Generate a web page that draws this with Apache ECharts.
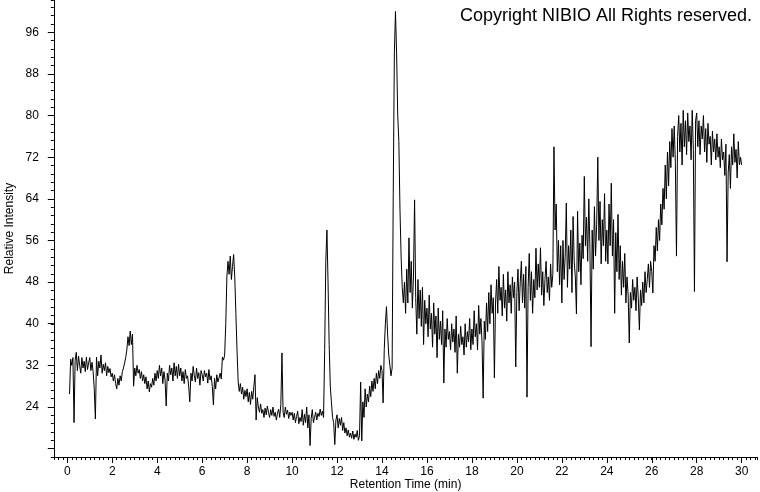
<!DOCTYPE html>
<html>
<head>
<meta charset="utf-8">
<script src="https://cdn.jsdelivr.net/npm/echarts@6/dist/echarts.min.js"></script>
<style>
  html, body { margin: 0; padding: 0; background: #fff; }
  #chart { width: 760px; height: 492px; }
</style>
</head>
<body>
<div id="chart"></div>
<script>
// retention time grid: first point and step (min)
const startTime = 0.1
const timeStep = 0.05

// relative intensity, 20 points per minute
const seg0to5 = [
  26.5, 33.2, 32.0, 33.5, 21.0, 33.0, 34.5, 31.0, 33.8, 32.0, 30.5, 33.5, 31.5, 32.8, 30.8, 33.6, 31.2, 32.5,
  33.5, 31.0, 32.6, 30.8, 27.5, 21.7, 33.6, 30.0, 32.8, 31.5, 34.0, 30.5, 32.2, 31.0, 32.5, 30.0, 31.8, 30.6, 31.4, 29.8,
  30.5, 29.0, 30.2, 28.5, 27.5, 29.5, 28.2, 30.0, 29.0, 30.8, 31.5, 32.5, 33.5, 35.0, 37.5, 35.8, 38.6, 36.0, 38.0, 28.0,
  31.5, 30.0, 32.0, 30.5, 31.2, 29.5, 30.8, 29.0, 30.2, 28.5, 29.8, 27.5, 29.0, 26.9, 28.5, 27.8, 29.5, 28.2, 30.5, 29.0,
  31.0, 29.5, 32.0, 30.0, 31.5, 28.5, 30.8, 29.2, 24.2, 30.5, 29.0, 32.0, 30.2, 31.5, 29.0, 32.5, 30.0, 31.8, 29.5, 32.2
]
const seg5to10 = [
  30.0, 31.5, 29.0, 30.8, 28.5, 31.2, 29.5, 30.0, 28.0, 25.0, 30.5, 29.0, 31.8, 30.0, 28.8, 31.5, 29.5, 30.6, 28.2, 31.0,
  30.2, 29.0, 31.0, 29.8, 30.5, 28.6, 31.2, 29.2, 30.0, 28.0, 24.4, 29.5, 27.5, 30.2, 28.8, 29.6, 30.5, 29.4, 33.6, 33.0,
  34.0, 40.0, 49.0, 52.0, 49.5, 53.0, 48.5, 51.0, 53.3, 49.0, 42.0, 35.0, 29.0, 27.0, 28.5, 26.5, 27.8, 25.5, 27.2, 26.0,
  27.5, 25.0, 26.8, 24.5, 27.0, 25.5, 28.0, 30.2, 21.5, 25.8, 24.0, 23.0, 24.6, 22.8, 23.5, 22.0, 23.8, 22.5, 24.2, 23.0,
  22.0, 23.5, 22.4, 24.0, 22.2, 23.0, 21.5, 22.8, 23.6, 22.0, 24.5, 34.4, 23.0, 22.0, 24.0, 22.6, 23.4, 21.8, 23.0, 22.4
]
const seg10to15 = [
  23.0, 21.5, 22.8, 21.0, 22.2, 23.2, 20.8, 22.0, 21.2, 23.5, 20.5, 22.6, 21.0, 24.0, 20.0, 22.5, 16.6, 21.8, 23.5, 21.0,
  22.0, 23.0, 21.5, 22.8, 22.2, 23.6, 22.4, 23.2, 22.0, 35.0, 52.0, 58.0, 48.0, 36.0, 28.0, 25.0, 22.0, 21.0, 16.8, 21.5,
  22.5, 20.0, 21.8, 20.5, 22.0, 19.5, 21.0, 19.0, 20.0, 18.5, 19.6, 18.2, 19.0, 18.0, 19.4, 17.8, 18.8, 18.2, 19.5, 17.6,
  18.5, 28.8, 17.5, 25.0, 22.0, 27.5, 24.0, 26.5, 25.0, 28.0, 26.0, 29.0, 27.0, 29.5, 27.5, 30.5, 28.5, 31.0, 29.5, 32.0,
  31.0, 24.8, 35.0, 40.0, 43.3, 38.0, 34.0, 32.0, 30.0, 31.5, 65.0, 92.0, 100.0, 92.0, 80.0, 75.0, 62.0, 53.0, 47.0, 44.0
]
const seg15to20 = [
  48.0, 42.0, 50.5, 44.0, 56.5, 46.0, 52.0, 43.0, 49.0, 63.8, 45.0, 38.0, 48.5, 41.0, 46.5, 39.5, 47.0, 36.0, 44.5, 40.0,
  43.0, 37.5, 45.5, 39.0, 42.0, 35.5, 44.0, 38.0, 41.5, 33.5, 43.0, 37.0, 40.5, 36.0, 42.5, 28.6, 39.0, 35.5, 41.0, 37.0,
  38.5, 35.0, 40.0, 36.5, 39.0, 34.5, 41.5, 30.5, 38.0, 35.5, 39.5, 36.0, 37.5, 34.0, 40.0, 35.5, 38.5, 36.5, 41.0, 35.0,
  39.0, 36.0, 42.5, 37.5, 40.0, 35.0, 43.5, 38.0, 41.0, 36.5, 25.7, 40.5, 37.0, 44.0, 38.5, 46.0, 40.0, 47.5, 42.0, 45.0,
  29.6, 44.0, 48.5, 42.0, 51.0, 44.5, 47.0, 41.5, 49.5, 43.0, 46.5, 40.5, 50.0, 44.0, 47.5, 42.0, 49.0, 45.0, 48.0, 31.7
]
const seg20to25 = [
  46.0, 50.5, 42.5, 48.0, 52.0, 44.0, 49.5, 43.0, 51.0, 25.9, 47.0, 53.5, 44.5, 50.0, 42.0, 48.5, 45.0, 54.5, 46.5, 51.5,
  47.0, 54.6, 45.5, 50.0, 43.5, 48.5, 52.0, 46.0, 49.0, 44.5, 51.5, 47.0, 49.5, 74.0, 58.0, 63.0, 50.0, 56.0, 47.5, 55.0,
  44.0, 56.0, 48.5, 53.0, 63.2, 47.0, 55.0, 50.5, 58.0, 46.0, 60.6, 52.0, 49.0, 41.9, 61.6, 50.0, 55.5, 47.5, 57.0, 52.5,
  68.3, 55.0, 60.5, 52.0, 64.0, 54.5, 35.6, 58.0, 50.5, 62.5, 53.0, 59.0, 72.0, 56.0, 63.5, 51.5, 60.0, 55.0, 65.0, 52.0,
  58.0, 51.5, 63.0, 55.0, 67.0, 53.0, 60.0, 42.0, 57.5, 50.0, 61.0, 48.5, 55.0, 45.5, 52.0, 47.0, 53.5, 44.0, 49.0, 45.5
]
const seg25to30 = [
  36.3, 46.0, 43.0, 48.5, 44.5, 47.0, 42.5, 49.0, 45.0, 38.8, 46.5, 43.5, 48.0, 44.0, 50.0, 46.0, 48.5, 51.5, 47.0, 52.0,
  50.0, 45.9, 55.0, 52.0, 58.5, 54.0, 60.0, 56.0, 63.0, 59.0, 66.0, 62.0, 70.5, 64.0, 73.0, 66.5, 75.0, 70.0, 77.5, 72.0,
  78.0, 71.0, 53.0, 76.0, 80.0, 73.0, 78.5, 70.5, 81.0, 74.0, 79.0, 72.5, 80.5, 75.0, 78.0, 71.5, 81.0, 73.5, 46.2, 79.0,
  80.5, 74.0, 79.0, 72.5, 78.0, 75.5, 80.0, 73.0, 77.5, 71.0, 78.5, 74.5, 76.0, 70.5, 77.0, 73.0, 75.5, 71.5, 76.5, 72.0,
  74.0, 70.0, 75.5, 71.5, 73.0, 68.5, 74.5, 51.9, 69.0, 72.5, 66.0, 74.0, 70.5, 76.5, 71.0, 73.5, 68.0, 75.0, 70.5, 72.0,
  70.5
]

const intensity = [].concat(seg0to5, seg5to10, seg10to15, seg15to20, seg20to25, seg25to30)
const trace = intensity.map((v, i) => [Math.round((startTime + i * timeStep) * 100) / 100, v])

const font = 'Liberation Sans, Arial, sans-serif'
const isMultiple = (v, step) => Math.abs(v / step - Math.round(v / step)) < 1e-6

const chart = echarts.init(document.getElementById('chart'), null, { renderer: 'canvas' })
chart.setOption({
  animation: false,
  backgroundColor: '#fff',
  title: {
    text: 'Copyright NIBIO All Rights reserved.',
    right: 3,
    top: 2,
    textStyle: { fontFamily: font, fontSize: 18, fontWeight: 'normal', color: '#000' }
  },
  grid: [
    // plot area, with minor ticks
    { left: 53.8, right: 2.6, top: 0, bottom: 35, outerBoundsMode: 'none' },
    // major y ticks + labels
    { left: 53.8, right: 2.6, top: 32.3, bottom: 43.4, outerBoundsMode: 'none' },
    // major x ticks + labels
    { left: 67.3, right: 18.3, top: 0, bottom: 35, outerBoundsMode: 'none' }
  ],
  xAxis: [
    {
      gridIndex: 0, type: 'value', min: -0.6, max: 30.7, interval: 0.2,
      name: 'Retention Time (min)', nameLocation: 'middle', nameGap: 22,
      nameTextStyle: { fontFamily: font, fontSize: 12, color: '#000' },
      axisLine: { onZero: false, lineStyle: { color: '#000', width: 1 } },
      axisTick: { length: 3, lineStyle: { color: '#000' } },
      axisLabel: { show: false },
      splitLine: { show: false }
    },
    { gridIndex: 1, type: 'value', min: 0, max: 30, show: false },
    {
      gridIndex: 2, type: 'value', min: 0, max: 30, interval: 2,
      axisLine: { show: false, onZero: false },
      axisTick: { length: 6, lineStyle: { color: '#000' } },
      axisLabel: { margin: 9, fontFamily: font, fontSize: 12, color: '#000' },
      splitLine: { show: false }
    }
  ],
  yAxis: [
    {
      gridIndex: 0, type: 'value', min: 14.4, max: 102.2, interval: 1.6,
      name: 'Relative Intensity', nameLocation: 'middle', nameGap: 38,
      nameTextStyle: { fontFamily: font, fontSize: 12, color: '#000' },
      axisLine: { show: true, onZero: false, lineStyle: { color: '#000', width: 1 } },
      axisTick: { show: true, length: 3, lineStyle: { color: '#000' } },
      axisLabel: { show: false },
      splitLine: { show: false }
    },
    {
      gridIndex: 1, type: 'value', min: 16, max: 96, interval: 8,
      axisLine: { show: false, onZero: false },
      axisTick: { show: true, length: 6, lineStyle: { color: '#000' } },
      axisLabel: {
        margin: 15, fontFamily: font, fontSize: 12, color: '#000',
        formatter: v => (isMultiple(v, 8) && v > 16 ? String(v) : '')
      },
      splitLine: { show: false }
    },
    { gridIndex: 2, type: 'value', min: 0, max: 100, show: false }
  ],
  series: [{
    type: 'line',
    xAxisIndex: 0,
    yAxisIndex: 0,
    data: trace,
    showSymbol: false,
    symbol: 'none',
    sampling: null,
    lineStyle: { color: '#000', width: 1 },
    silent: true
  }]
})
</script>
</body>
</html>
